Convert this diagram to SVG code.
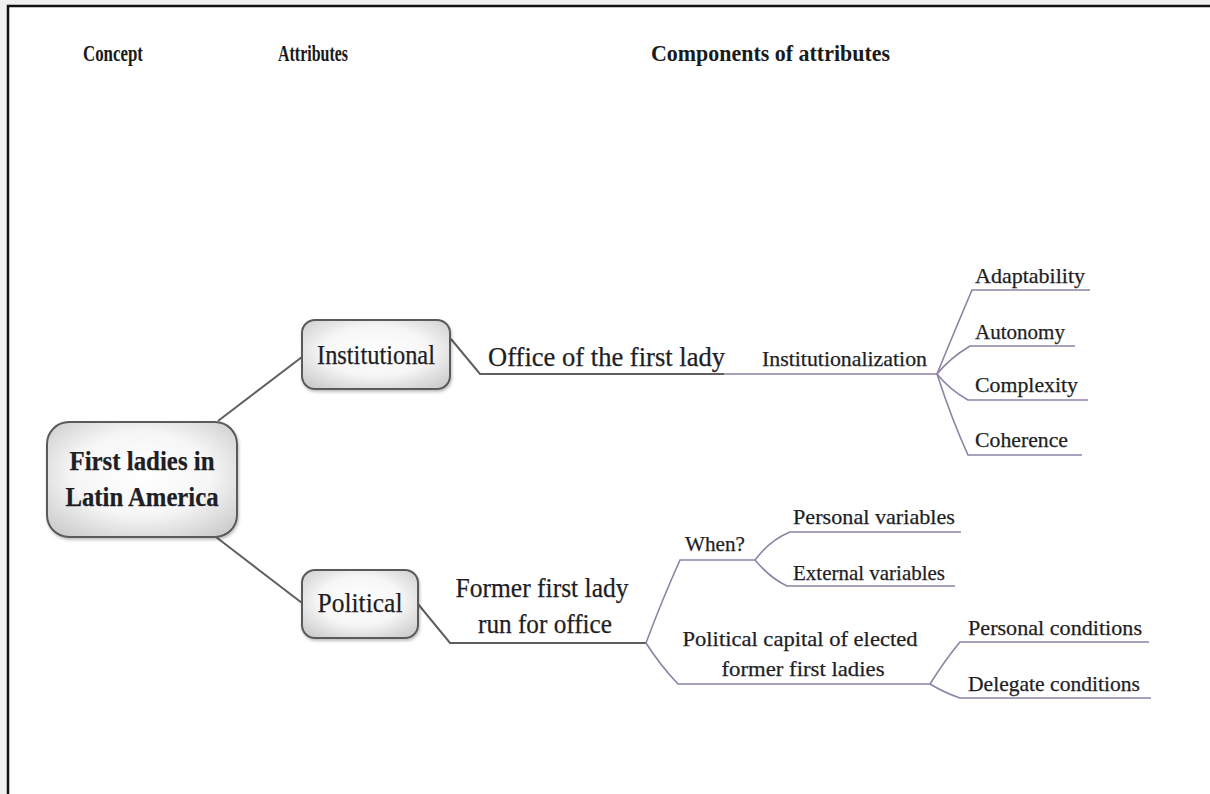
<svg xmlns="http://www.w3.org/2000/svg" width="1210" height="794" viewBox="0 0 1210 794">
  <style>
    .hdr { font-family: 'Liberation Serif', 'DejaVu Serif', serif; font-weight: bold; font-size: 23px; fill: #1a1a1a; }
    .lbl { font-family: 'Liberation Serif', 'DejaVu Serif', serif; fill: #1e1e24; stroke: #1e1e24; stroke-width: 0.25; }
    .big { font-size: 27px; }
    .sm { font-size: 22px; }
    .box { fill: url(#boxFill); stroke: #5a5a5a; stroke-width: 2; }
    .l1 { fill: none; stroke: #5f5f5f; stroke-width: 2; }
    .l2 { fill: none; stroke: #8e82a6; stroke-width: 1.6; }
  </style>
  <defs>
    <radialGradient id="boxFill" cx="50%" cy="45%" r="65%">
      <stop offset="0" stop-color="#ffffff"/>
      <stop offset="0.55" stop-color="#f6f6f6"/>
      <stop offset="1" stop-color="#cfcfcf"/>
    </radialGradient>
    <filter id="shade" x="-10%" y="-10%" width="125%" height="130%">
      <feDropShadow dx="1" dy="2" stdDeviation="1.5" flood-color="#000" flood-opacity="0.25"/>
    </filter>
  </defs>

  <!-- page backdrop and frame -->
  <rect x="0" y="0" width="1210" height="794" fill="#f0f0f0"/>
  <rect x="8" y="6" width="1210" height="800" fill="#ffffff"/>
  <path d="M8 800 V6 H1210" fill="none" stroke="#111" stroke-width="2.5"/>

  <!-- column headings -->
  <g id="headings">
    <text class="hdr" x="83" y="61" textLength="60" lengthAdjust="spacingAndGlyphs">Concept</text>
    <text class="hdr" x="278" y="61" textLength="70" lengthAdjust="spacingAndGlyphs">Attributes</text>
    <text class="hdr" x="651" y="61" textLength="239" lengthAdjust="spacingAndGlyphs">Components of attributes</text>
  </g>

  <!-- connectors -->
  <g id="connectors">
    <path class="l1" d="M218 421 L302 357"/>
    <path class="l1" d="M216 537 L302 603"/>
    <path class="l1" d="M451 339 L480 374 H724"/>
    <path class="l2" d="M724 374 H937"/>
    <path class="l2" d="M937 374 Q955 330 972 290 H1090"/>
    <path class="l2" d="M937 374 Q950 358 970 346 H1075"/>
    <path class="l2" d="M937 374 Q950 390 968 400 H1088"/>
    <path class="l2" d="M937 374 Q952 420 968 455 H1082"/>
    <path class="l1" d="M418 604 L450 643 H646"/>
    <path class="l2" d="M646 643 Q662 600 680 560 H755"/>
    <path class="l2" d="M755 560 Q770 540 790 532 H961"/>
    <path class="l2" d="M755 560 Q770 578 787 586 H955"/>
    <path class="l2" d="M646 643 Q660 665 678 684 H930"/>
    <path class="l2" d="M930 684 Q945 660 960 642 H1149"/>
    <path class="l2" d="M930 684 Q945 693 960 698 H1151"/>
  </g>

  <!-- concept node -->
  <g id="concept">
    <rect class="box" x="47" y="422" width="190" height="115" rx="22" filter="url(#shade)"/>
    <text class="lbl big" x="142" y="470" text-anchor="middle" font-weight="bold" textLength="145" lengthAdjust="spacingAndGlyphs">First ladies in</text>
    <text class="lbl big" x="142" y="506" text-anchor="middle" font-weight="bold" textLength="153" lengthAdjust="spacingAndGlyphs">Latin America</text>
  </g>

  <!-- attribute nodes -->
  <g id="institutional">
    <rect class="box" x="302" y="320" width="148" height="69" rx="13" filter="url(#shade)"/>
    <text class="lbl big" x="376" y="364" text-anchor="middle" textLength="118" lengthAdjust="spacingAndGlyphs">Institutional</text>
  </g>
  <g id="political">
    <rect class="box" x="302" y="570" width="116" height="68" rx="13" filter="url(#shade)"/>
    <text class="lbl big" x="360" y="612" text-anchor="middle" textLength="85" lengthAdjust="spacingAndGlyphs">Political</text>
  </g>

  <!-- institutional branch -->
  <g id="office">
    <text class="lbl big" x="488" y="366" textLength="237" lengthAdjust="spacingAndGlyphs">Office of the first lady</text>
  </g>
  <g id="institutionalization">
    <text class="lbl sm" x="762" y="366" textLength="165" lengthAdjust="spacingAndGlyphs">Institutionalization</text>
  </g>
  <g id="adaptability">
    <text class="lbl sm" x="975" y="283" textLength="110" lengthAdjust="spacingAndGlyphs">Adaptability</text>
  </g>
  <g id="autonomy">
    <text class="lbl sm" x="975" y="339" textLength="90" lengthAdjust="spacingAndGlyphs">Autonomy</text>
  </g>
  <g id="complexity">
    <text class="lbl sm" x="975" y="392" textLength="103" lengthAdjust="spacingAndGlyphs">Complexity</text>
  </g>
  <g id="coherence">
    <text class="lbl sm" x="975" y="447" textLength="93" lengthAdjust="spacingAndGlyphs">Coherence</text>
  </g>

  <!-- political branch -->
  <g id="former">
    <text class="lbl big" x="542" y="597" text-anchor="middle" textLength="173" lengthAdjust="spacingAndGlyphs">Former first lady</text>
    <text class="lbl big" x="545" y="633" text-anchor="middle" textLength="134" lengthAdjust="spacingAndGlyphs">run for office</text>
  </g>
  <g id="when">
    <text class="lbl sm" x="685" y="551" textLength="60" lengthAdjust="spacingAndGlyphs">When?</text>
  </g>
  <g id="personal-variables">
    <text class="lbl sm" x="793" y="524" textLength="162" lengthAdjust="spacingAndGlyphs">Personal variables</text>
  </g>
  <g id="external-variables">
    <text class="lbl sm" x="793" y="580" textLength="152" lengthAdjust="spacingAndGlyphs">External variables</text>
  </g>
  <g id="political-capital">
    <text class="lbl sm" x="800" y="646" text-anchor="middle" textLength="235" lengthAdjust="spacingAndGlyphs">Political capital of elected</text>
    <text class="lbl sm" x="803" y="676" text-anchor="middle" textLength="163" lengthAdjust="spacingAndGlyphs">former first ladies</text>
  </g>
  <g id="personal-conditions">
    <text class="lbl sm" x="968" y="635" textLength="174" lengthAdjust="spacingAndGlyphs">Personal conditions</text>
  </g>
  <g id="delegate-conditions">
    <text class="lbl sm" x="968" y="691" textLength="172" lengthAdjust="spacingAndGlyphs">Delegate conditions</text>
  </g>
</svg>
